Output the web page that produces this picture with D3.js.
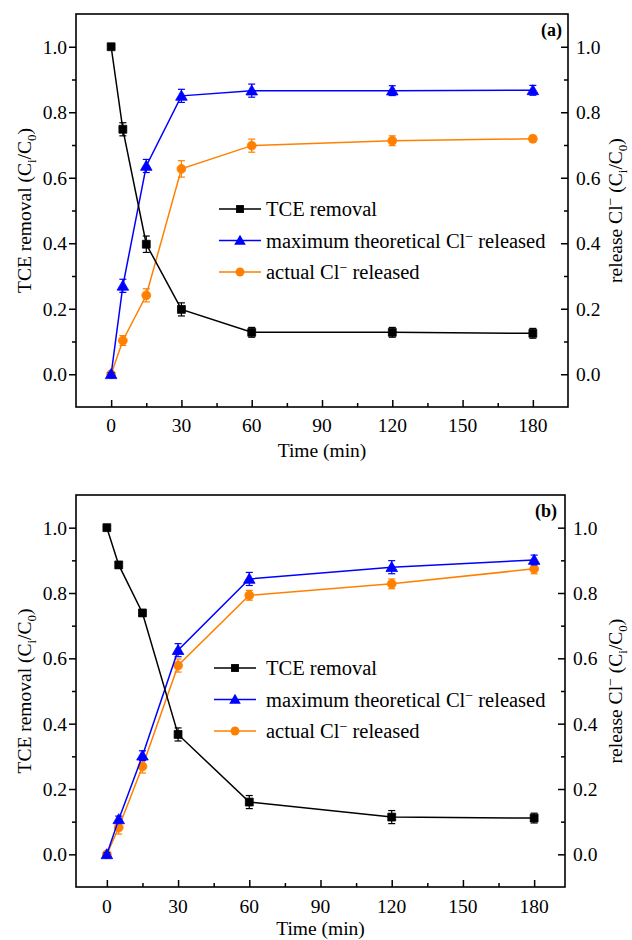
<!DOCTYPE html>
<html>
<head>
<meta charset="utf-8">
<script src="https://cdn.jsdelivr.net/npm/d3@7"></script>
<style>
  html, body { margin: 0; padding: 0; background: #fff; }
  svg { display: block; }
</style>
</head>
<body>
<svg id="chart" width="632" height="940" font-family="'Liberation Serif', 'DejaVu Serif', 'Times New Roman', serif"></svg>
<script>
// Sampling times (min)
const times = [0, 5, 15, 30, 60, 120, 180];
const xTicks = [0, 30, 60, 90, 120, 150, 180];
const xMinorTicks = [15, 45, 75, 105, 135, 165];
const yTicks = [0, 0.2, 0.4, 0.6, 0.8, 1.0];
const yMinorTicks = [0.1, 0.3, 0.5, 0.7, 0.9];

// Series names
const seriesNames = ["TCE removal", "maximum theoretical Cl", "actual Cl"];

// Panel (a)
const aTCE = [1.0, 0.748, 0.397, 0.198, 0.128, 0.128, 0.125];
const aTCEErr = [0.005, 0.02, 0.025, 0.02, 0.015, 0.015, 0.015];
const aMax = [0.0, 0.27, 0.636, 0.85, 0.866, 0.866, 0.867];
const aMaxErr = [0.005, 0.02, 0.02, 0.02, 0.02, 0.015, 0.015];
const aAct = [0.0, 0.103, 0.241, 0.627, 0.698, 0.713, 0.719];
const aActErr = [0.005, 0.015, 0.02, 0.025, 0.02, 0.015, 0.01];

// Panel (b)
const bTCE = [1.0, 0.886, 0.739, 0.367, 0.160, 0.114, 0.111];
const bTCEErr = [0.005, 0.01, 0.01, 0.02, 0.02, 0.02, 0.015];
const bMax = [0.0, 0.107, 0.302, 0.625, 0.843, 0.879, 0.901];
const bMaxErr = [0.005, 0.01, 0.015, 0.02, 0.02, 0.02, 0.015];
const bAct = [0.0, 0.082, 0.269, 0.578, 0.793, 0.828, 0.874];
const bActErr = [0.005, 0.02, 0.02, 0.02, 0.015, 0.015, 0.015];

const colors = { tce: "#000000", max: "#0000ff", act: "#ff8000" };
const svg = d3.select("#chart");

function drawPanel(cfg) {
  const { left, right, top, bottom, xDomain, tag, tagPos, legendPos, tickBaseline, titleBaseline, rightTitleGap } = cfg;
  const g = svg.append("g");
  const x = d3.scaleLinear().domain(xDomain).range([left, right]);
  const y = d3.scaleLinear().domain([-0.1, 1.1]).range([bottom, top]);
  const fs = 19.5;

  // Frame
  g.append("rect").attr("x", left).attr("y", top)
    .attr("width", right - left).attr("height", bottom - top)
    .attr("fill", "none").attr("stroke", "#000").attr("stroke-width", 1.6);

  // Bottom axis: inward ticks
  const bx = g.append("g").attr("transform", `translate(0,${bottom})`);
  bx.call(d3.axisBottom(x).tickValues(xTicks).tickSize(-7).tickFormat(""))
    .call(s => s.select(".domain").remove());
  bx.append("g").call(d3.axisBottom(x).tickValues(xMinorTicks).tickSize(-4).tickFormat(""))
    .call(s => s.select(".domain").remove());
  bx.selectAll("line").attr("stroke", "#000").attr("stroke-width", 1.5);
  g.selectAll(null).data(xTicks).join("text")
    .attr("x", d => x(d)).attr("y", tickBaseline)
    .attr("text-anchor", "middle").attr("font-size", fs).text(d => d);

  // Left axis: outward ticks
  const ly = g.append("g").attr("transform", `translate(${left},0)`);
  ly.call(d3.axisLeft(y).tickValues(yTicks).tickSize(7).tickFormat(""))
    .call(s => s.select(".domain").remove());
  ly.append("g").call(d3.axisLeft(y).tickValues(yMinorTicks).tickSize(4).tickFormat(""))
    .call(s => s.select(".domain").remove());
  ly.selectAll("line").attr("stroke", "#000").attr("stroke-width", 1.5);
  g.selectAll(null).data(yTicks).join("text")
    .attr("x", left - 9).attr("y", d => y(d) + 7)
    .attr("text-anchor", "end").attr("font-size", fs).text(d => d3.format(".1f")(d));

  // Right axis: inward ticks
  const ry = g.append("g").attr("transform", `translate(${right},0)`);
  ry.call(d3.axisLeft(y).tickValues(yTicks).tickSize(7).tickFormat(""))
    .call(s => s.select(".domain").remove());
  ry.append("g").call(d3.axisLeft(y).tickValues(yMinorTicks).tickSize(4).tickFormat(""))
    .call(s => s.select(".domain").remove());
  ry.selectAll("line").attr("stroke", "#000").attr("stroke-width", 1.5);
  g.selectAll(null).data(yTicks).join("text")
    .attr("x", right + 8).attr("y", d => y(d) + 7)
    .attr("text-anchor", "start").attr("font-size", fs).text(d => d3.format(".1f")(d));

  // Axis titles
  g.append("text").attr("x", (left + right) / 2).attr("y", titleBaseline)
    .attr("text-anchor", "middle").attr("font-size", fs).text("Time (min)");

  const midY = (top + bottom) / 2;
  const lt = g.append("text").attr("transform", `translate(31,${midY}) rotate(-90)`)
    .attr("text-anchor", "middle").attr("font-size", fs);
  lt.append("tspan").text("TCE removal (C");
  lt.append("tspan").attr("font-size", 13).attr("dy", 5).text("i");
  lt.append("tspan").attr("dy", -5).text("/C");
  lt.append("tspan").attr("font-size", 13).attr("dy", 5).text("0");
  lt.append("tspan").attr("dy", -5).text(")");

  const rt = g.append("text").attr("transform", `translate(622,${midY}) rotate(-90)`)
    .attr("text-anchor", "middle").attr("font-size", fs);
  rt.append("tspan").text("release Cl");
  rt.append("tspan").attr("font-size", 14).attr("dy", -7).text("\u2212");
  rt.append("tspan").attr("dy", 7).text(rightTitleGap + "(C");
  rt.append("tspan").attr("font-size", 13).attr("dy", 5).text("i");
  rt.append("tspan").attr("dy", -5).text("/C");
  rt.append("tspan").attr("font-size", 13).attr("dy", 5).text("0");
  rt.append("tspan").attr("dy", -5).text(")");

  // Panel tag
  g.append("text").attr("x", tagPos[0]).attr("y", tagPos[1])
    .attr("text-anchor", "end").attr("font-size", 18).attr("font-weight", "bold").text(tag);

  const series = [
    { key: "tce", vals: cfg.tce, err: cfg.tceErr, shape: "square" },
    { key: "max", vals: cfg.max, err: cfg.maxErr, shape: "triangle" },
    { key: "act", vals: cfg.act, err: cfg.actErr, shape: "circle" }
  ];

  const line = d3.line().x(d => x(d.t)).y(d => y(d.v));
  const symbols = {
    square: d3.symbol().type(d3.symbolSquare).size(62),
    triangle: d3.symbol().type(d3.symbolTriangle).size(58),
    circle: d3.symbol().type(d3.symbolCircle).size(62)
  };

  // Draw in reverse so the black series sits on top
  series.slice().reverse().forEach(s => {
    const pts = times.map((t, i) => ({ t, v: s.vals[i], e: s.err[i] }));
    const col = colors[s.key];
    const sg = g.append("g");
    sg.append("path").datum(pts).attr("d", line)
      .attr("fill", "none").attr("stroke", col).attr("stroke-width", 1.5);
    const eb = sg.selectAll(null).data(pts).join("g").attr("stroke", col).attr("stroke-width", 1.2);
    eb.append("line").attr("x1", d => x(d.t)).attr("x2", d => x(d.t))
      .attr("y1", d => y(d.v - d.e)).attr("y2", d => y(d.v + d.e));
    eb.append("line").attr("x1", d => x(d.t) - 3.5).attr("x2", d => x(d.t) + 3.5)
      .attr("y1", d => y(d.v - d.e)).attr("y2", d => y(d.v - d.e));
    eb.append("line").attr("x1", d => x(d.t) - 3.5).attr("x2", d => x(d.t) + 3.5)
      .attr("y1", d => y(d.v + d.e)).attr("y2", d => y(d.v + d.e));
    sg.selectAll(null).data(pts).join("path")
      .attr("d", symbols[s.shape])
      .attr("transform", d => `translate(${x(d.t)},${y(d.v) + (s.shape === "triangle" ? 1 : 0)})`)
      .attr("fill", col).attr("stroke", col).attr("stroke-width", 0.8);
  });

  // Legend
  const [lx0, lx1, ly0, txtX] = legendPos;
  series.forEach((s, i) => {
    const yy = ly0 + i * 31.5;
    const col = colors[s.key];
    g.append("line").attr("x1", lx0).attr("x2", lx1).attr("y1", yy).attr("y2", yy)
      .attr("stroke", col).attr("stroke-width", 1.5);
    g.append("path").attr("d", symbols[s.shape])
      .attr("transform", `translate(${(lx0 + lx1) / 2},${yy + (s.shape === "triangle" ? 1 : 0)})`)
      .attr("fill", col);
    const t = g.append("text").attr("x", txtX).attr("y", yy + 7).attr("font-size", 20.5);
    if (i === 0) {
      t.text(seriesNames[0]);
    } else {
      t.append("tspan").text(seriesNames[i]);
      t.append("tspan").attr("font-size", 14).attr("dy", -7).text("\u2212");
      t.append("tspan").attr("dy", 7).text(" released");
    }
  });
}

drawPanel({
  left: 76, right: 568, top: 14, bottom: 407, xDomain: [-15, 195],
  tag: "(a)", tagPos: [562, 36], legendPos: [219, 261, 209, 266],
  tickBaseline: 432, titleBaseline: 457, rightTitleGap: " ",
  tce: aTCE, tceErr: aTCEErr, max: aMax, maxErr: aMaxErr, act: aAct, actErr: aActErr
});

drawPanel({
  left: 76, right: 565, top: 495, bottom: 887, xDomain: [-13, 193],
  tag: "(b)", tagPos: [557, 517], legendPos: [214, 256, 668, 266],
  tickBaseline: 913, titleBaseline: 935, rightTitleGap: "  ",
  tce: bTCE, tceErr: bTCEErr, max: bMax, maxErr: bMaxErr, act: bAct, actErr: bActErr
});
</script>
</body>
</html>
